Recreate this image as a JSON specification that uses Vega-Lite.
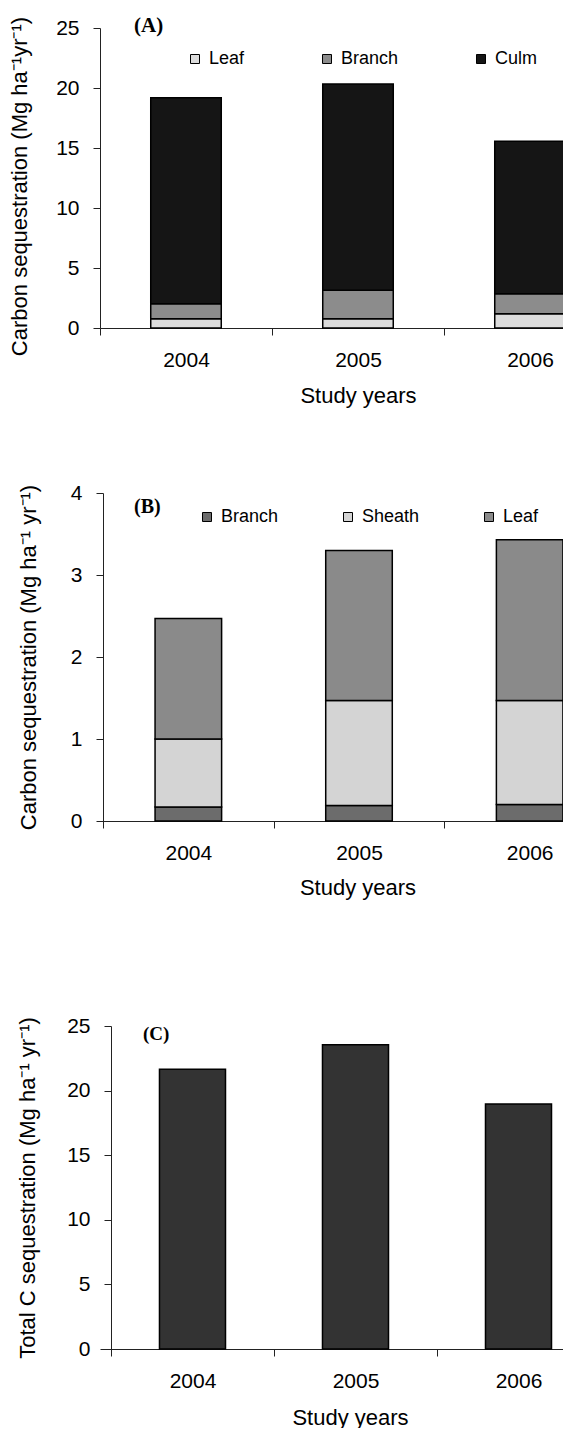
{
  "$schema": "https://vega.github.io/schema/vega-lite/v6.json",
  "background": "white",
  "padding": {"left": 8, "top": 15, "right": 0, "bottom": 0},
  "datasets": {
    "a": [
      {"year": "2004", "part": "Leaf", "k": 1, "value": 0.78},
      {"year": "2004", "part": "Branch", "k": 2, "value": 1.25},
      {"year": "2004", "part": "Culm", "k": 3, "value": 17.16},
      {"year": "2005", "part": "Leaf", "k": 1, "value": 0.78},
      {"year": "2005", "part": "Branch", "k": 2, "value": 2.36},
      {"year": "2005", "part": "Culm", "k": 3, "value": 17.19},
      {"year": "2006", "part": "Leaf", "k": 1, "value": 1.19},
      {"year": "2006", "part": "Branch", "k": 2, "value": 1.67},
      {"year": "2006", "part": "Culm", "k": 3, "value": 12.70}
    ],
    "b": [
      {"year": "2004", "part": "Branch", "k": 1, "value": 0.17},
      {"year": "2004", "part": "Sheath", "k": 2, "value": 0.83},
      {"year": "2004", "part": "Leaf", "k": 3, "value": 1.47},
      {"year": "2005", "part": "Branch", "k": 1, "value": 0.19},
      {"year": "2005", "part": "Sheath", "k": 2, "value": 1.28},
      {"year": "2005", "part": "Leaf", "k": 3, "value": 1.83},
      {"year": "2006", "part": "Branch", "k": 1, "value": 0.20},
      {"year": "2006", "part": "Sheath", "k": 2, "value": 1.27},
      {"year": "2006", "part": "Leaf", "k": 3, "value": 1.96}
    ],
    "c": [
      {"year": "2004", "value": 21.66},
      {"year": "2005", "value": 23.55},
      {"year": "2006", "value": 18.97}
    ]
  },
  "vconcat": [
    {
      "spacing": 76,
      "resolve": {"scale": {"color": "independent"}, "legend": {"color": "independent"}},
      "vconcat": [
        {
          "width": 516,
          "height": 300,
          "title": {"text": "(A)", "anchor": "start", "frame": "group", "dx": 34, "offset": -20, "font": "Liberation Serif", "fontWeight": "bold", "fontSize": 21, "color": "#000"},
          "data": {"name": "a"},
          "mark": {"type": "bar", "width": {"band": 0.41}, "stroke": "#000", "strokeWidth": 1.5},
          "encoding": {
            "x": {"field": "year", "type": "ordinal", "scale": {"paddingInner": 0, "paddingOuter": 0},
                  "axis": {"title": "Study years", "labelAngle": 0, "tickBand": "extent", "titlePadding": 15}},
            "y": {"field": "value", "type": "quantitative", "stack": "zero", "scale": {"domain": [0, 25], "nice": false},
                  "axis": {"values": [0, 5, 10, 15, 20, 25], "title": "Carbon sequestration (Mg ha⁻¹yr⁻¹)", "titlePadding": 24, "titleY": 158}},
            "color": {"field": "part", "type": "nominal",
                      "scale": {"domain": ["Leaf", "Branch", "Culm"], "range": ["#dcdcdc", "#8c8c8c", "#151515"]},
                      "legend": {"orient": "none", "legendX": 86, "legendY": 22, "direction": "horizontal", "title": null,
                                 "symbolType": "square", "symbolSize": 81, "symbolStrokeColor": "#000", "symbolStrokeWidth": 1,
                                 "labelFontSize": 18, "labelFont": "Liberation Sans", "labelColor": "#000", "columnPadding": 73, "labelOffset": 5}},
            "order": {"field": "k", "type": "quantitative"}
          }
        },
        {
          "width": 515,
          "height": 328,
          "title": {"text": "(B)", "anchor": "start", "frame": "group", "dx": 34, "offset": -35, "font": "Liberation Serif", "fontWeight": "bold", "fontSize": 20, "color": "#000"},
          "data": {"name": "b"},
          "mark": {"type": "bar", "width": {"band": 0.39}, "stroke": "#000", "strokeWidth": 1.5},
          "encoding": {
            "x": {"field": "year", "type": "ordinal", "scale": {"paddingInner": 0, "paddingOuter": 0.0088, "align": 1},
                  "axis": {"title": "Study years", "labelAngle": 0, "tickBand": "extent", "titlePadding": 14}},
            "y": {"field": "value", "type": "quantitative", "stack": "zero", "scale": {"domain": [0, 4], "nice": false},
                  "axis": {"values": [0, 1, 2, 3, 4], "title": "Carbon sequestration (Mg ha⁻¹ yr⁻¹)", "titlePadding": 30, "offset": -3}},
            "color": {"field": "part", "type": "nominal",
                      "scale": {"domain": ["Branch", "Sheath", "Leaf"], "range": ["#6c6c6c", "#d4d4d4", "#8a8a8a"]},
                      "legend": {"orient": "none", "legendX": 98, "legendY": 15, "direction": "horizontal", "title": null,
                                 "symbolType": "square", "symbolSize": 81, "symbolStrokeColor": "#000", "symbolStrokeWidth": 1,
                                 "labelFontSize": 18, "labelFont": "Liberation Sans", "labelColor": "#000", "columnPadding": 60, "labelOffset": 5}},
            "order": {"field": "k", "type": "quantitative"}
          }
        }
      ]
    },
    {
      "width": 500,
      "height": 323,
      "title": {"text": "(C)", "anchor": "start", "frame": "group", "dx": 43, "offset": -29, "font": "Liberation Serif", "fontWeight": "bold", "fontSize": 19, "color": "#000"},
      "data": {"name": "c"},
      "mark": {"type": "bar", "width": {"band": 0.405}, "fill": "#333333", "stroke": "#000", "strokeWidth": 1.5},
      "encoding": {
        "x": {"field": "year", "type": "ordinal", "scale": {"paddingInner": 0, "paddingOuter": 0.0337, "align": 1},
              "axis": {"title": "Study years", "labelAngle": 0, "tickBand": "extent", "titlePadding": 16}},
        "y": {"field": "value", "type": "quantitative", "scale": {"domain": [0, 25], "nice": false},
              "axis": {"values": [0, 5, 10, 15, 20, 25], "title": "Total C sequestration (Mg ha⁻¹ yr⁻¹)", "titlePadding": 27, "offset": -11}}
      }
    }
  ],
  "spacing": 117,
  "config": {
    "view": {"stroke": null},
    "font": "Liberation Sans",
    "axis": {
      "labelFont": "Liberation Sans", "titleFont": "Liberation Sans",
      "labelFontSize": 21, "titleFontSize": 22, "titleFontWeight": "normal",
      "labelColor": "#000", "titleColor": "#000",
      "domainColor": "#222", "tickColor": "#222", "domainWidth": 1, "tickWidth": 1,
      "tickSize": 7, "labelPadding": 14, "grid": false
    }
  }
}
